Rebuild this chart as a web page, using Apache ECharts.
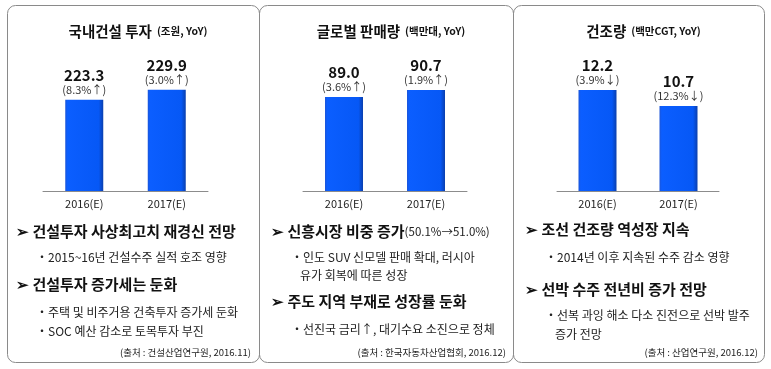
<!DOCTYPE html>
<html><head><meta charset="utf-8">
<script src="https://cdn.jsdelivr.net/npm/echarts@6/dist/echarts.min.js"></script>
<style>html,body{margin:0;padding:0;background:#fff}#c{width:771px;height:369px}</style>
</head><body><div id="c"></div>
<script>
const categories = ['2016(E)', '2017(E)'];
const constructionValues = [223.3, 229.9];
const constructionPct = ['(8.3%↑)', '(3.0%↑)'];
const salesValues = [89.0, 90.7];
const salesPct = ['(3.6%↑)', '(1.9%↑)'];
const shipValues = [12.2, 10.7];
const shipPct = ['(3.9%↓)', '(12.3%↓)'];
const titles = [['국내건설 투자', '(조원, YoY)'], ['글로벌 판매량', '(백만대, YoY)'], ['건조량', '(백만CGT, YoY)']];
const sources = ['(출처 : 건설산업연구원, 2016.11)', '(출처 : 한국자동차산업협회, 2016.12)', '(출처 : 산업연구원, 2016.12)'];

const FONT = '"Noto Sans CJK KR", "Noto Sans", sans-serif';
const chart = echarts.init(document.getElementById('c'));

const panels = [
  {x: 7, w: 252, gl: 43, gw: 165, min: 163, max: 262, vals: constructionValues, pct: constructionPct},
  {x: 259, w: 254, gl: 303, gw: 164, min: 66.2, max: 102.6, vals: salesValues, pct: salesPct},
  {x: 513, w: 251, gl: 557, gw: 162, min: 2.73, max: 16.8, vals: shipValues, pct: shipPct}
];

const barColor = new echarts.graphic.LinearGradient(0, 0, 1, 0, [
  {offset: 0, color: '#1c55d8'}, {offset: 0.06, color: '#0b5eff'},
  {offset: 0.88, color: '#0658f6'}, {offset: 1, color: '#0a3fae'}
]);

const grids = [], xAxes = [], yAxes = [], series = [], titleComps = [];
panels.forEach((p, i) => {
  grids.push({left: p.gl, width: p.gw, top: 41, height: 150});
  xAxes.push({type: 'category', gridIndex: i, data: categories,
    axisLine: {lineStyle: {color: '#8c8c8c', width: 1}}, axisTick: {show: false},
    axisLabel: {color: '#222', fontSize: 11, fontFamily: FONT, margin: 7}});
  yAxes.push({type: 'value', gridIndex: i, min: p.min, max: p.max, show: false, splitLine: {show: false}});
  series.push({type: 'bar', xAxisIndex: i, yAxisIndex: i, barWidth: 38,
    data: p.vals, itemStyle: {color: barColor},
    label: {show: true, position: 'top', distance: 3,
      formatter: (d) => '{v|' + d.value.toFixed(1) + '}\n{p|' + p.pct[d.dataIndex] + '}',
      rich: {v: {fontSize: 15, fontWeight: 'bold', color: '#111', fontFamily: FONT, lineHeight: 15},
             p: {fontSize: 11, color: '#333', fontFamily: FONT, lineHeight: 14}}}});
  titleComps.push({text: '{a|' + titles[i][0] + '} {b|' + titles[i][1] + '}', left: p.x + p.w / 2, top: 17, textAlign: 'center',
    textStyle: {rich: {a: {fontSize: 14.5, fontWeight: 'bold', color: '#111', fontFamily: FONT},
                       b: {fontSize: 10.5, fontWeight: 'bold', color: '#111', fontFamily: FONT}}}});
});

const H = (x, y, t, extra) => ({type: 'text', left: x, top: y - 11, style: {text: extra ? '{h|➢ ' + t + '}{s|' + extra + '}' : '{h|➢ ' + t + '}',
  rich: {h: {fontSize: 15, fontWeight: 'bold', fill: '#111', fontFamily: FONT}, s: {fontSize: 11.5, fill: '#222', fontFamily: FONT}}}});
const S = (x, y, t) => ({type: 'text', left: x, top: y - 9, style: {text: t, fontSize: 12, fill: '#222', fontFamily: FONT}});
const SRC = (r, y, t) => ({type: 'text', right: 771 - r, top: y - 7, style: {text: t, fontSize: 9.5, fill: '#222', fontFamily: FONT}});

const graphics = [];
panels.forEach(p => {
  graphics.push({type: 'rect', shape: {x: p.x + 0.5, y: 5.5, width: p.w, height: 357, r: 8},
    style: {fill: 'none', stroke: '#8a8a8a', lineWidth: 1}, silent: true, z: -1});
});
graphics.push(
  H(16, 235, '건설투자 사상최고치 재경신 전망'),
  S(36, 260, '・2015~16년 건설수주 실적 호조 영향'),
  H(16, 288, '건설투자 증가세는 둔화'),
  S(36, 315, '・주택 및 비주거용 건축투자 증가세 둔화'),
  S(36, 334, '・SOC 예산 감소로 토목투자 부진'),
  SRC(251, 355, sources[0]),
  H(271, 235, '신흥시장 비중 증가', '(50.1%→51.0%)'),
  S(291, 260, '・인도 SUV 신모델 판매 확대, 러시아'),
  S(300, 278, '유가 회복에 따른 성장'),
  H(271, 305, '주도 지역 부재로 성장률 둔화'),
  S(291, 332, '・선진국 금리↑, 대기수요 소진으로 정체'),
  SRC(506, 355, sources[1]),
  H(525, 233, '조선 건조량 역성장 지속'),
  S(545, 260, '・2014년 이후 지속된 수주 감소 영향'),
  H(525, 293, '선박 수주 전년비 증가 전망'),
  S(545, 318, '・선복 과잉 해소 다소 진전으로 선박 발주'),
  S(555, 337, '증가 전망'),
  SRC(758, 355, sources[2])
);

chart.setOption({
  animation: false,
  title: titleComps,
  grid: grids, xAxis: xAxes, yAxis: yAxes, series: series,
  graphic: graphics
});
</script></body></html>
